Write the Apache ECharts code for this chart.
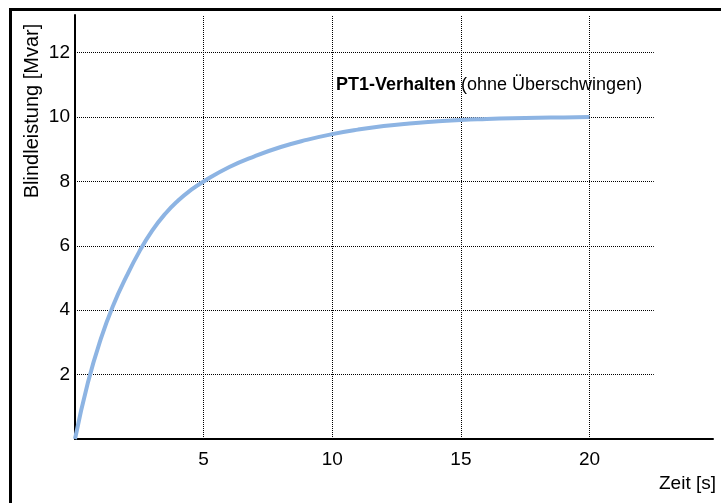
<!DOCTYPE html>
<html>
<head>
<meta charset="utf-8">
<script src="https://cdn.jsdelivr.net/npm/echarts@6/dist/echarts.min.js"></script>
<style>
html,body{margin:0;padding:0;background:#fff;}
#chart{width:721px;height:503px;}
</style>
</head>
<body>
<div id="chart"></div>
<script>
// Data
var zeit = [0, 0.5, 1, 1.5, 2, 2.5, 3, 3.5, 4, 4.5, 5, 6, 7, 8, 9, 10, 11, 12, 13, 14, 15, 16, 17, 18, 19, 20];
var blindleistung = [0, 1.75, 3.1, 4.18, 5.05, 5.82, 6.47, 6.99, 7.4, 7.73, 8.0, 8.45, 8.79, 9.07, 9.29, 9.47, 9.61, 9.72, 9.8, 9.86, 9.91, 9.94, 9.965, 9.98, 9.99, 10.0];
var gridY = [2, 4, 6, 8, 10, 12];
var gridX = [5, 10, 15, 20];
var gridXEnd = 22.5;
var gridYEnd = 13.15;
var xName = 'Zeit [s]';
var yName = 'Blindleistung [Mvar]';
var annoBold = 'PT1-Verhalten';
var annoRest = '(ohne Überschwingen)';

var FONT = '"Liberation Sans", Arial, sans-serif';
var chart = echarts.init(document.getElementById('chart'), null, {renderer: 'canvas'});

var points = zeit.map(function (t, i) { return [t, blindleistung[i]]; });
var gridLines = [];
gridY.forEach(function (v) { gridLines.push([{coord: [0, v]}, {coord: [gridXEnd, v]}]); });
gridX.forEach(function (v) { gridLines.push([{coord: [v, 0]}, {coord: [v, gridYEnd]}]); });

chart.setOption({
  animation: false,
  backgroundColor: '#ffffff',
  grid: {left: 75, right: 8, top: 15, bottom: 64, containLabel: false},
  xAxis: {
    type: 'value', min: 0, max: 24.8, interval: 5,
    axisLine: {show: true, lineStyle: {color: '#000', width: 2}},
    axisTick: {show: false},
    splitLine: {show: false},
    axisLabel: {
      color: '#000', fontFamily: FONT, fontSize: 19, margin: 11,
      showMaxLabel: false,
      formatter: function (v) { return v === 0 ? '' : String(v); }
    }
  },
  yAxis: {
    type: 'value', min: 0, max: 13.17, interval: 2,
    axisLine: {show: true, lineStyle: {color: '#000', width: 2}},
    axisTick: {show: false},
    splitLine: {show: false},
    axisLabel: {
      color: '#000', fontFamily: FONT, fontSize: 19, margin: 5,
      showMaxLabel: false,
      formatter: function (v) { return v === 0 ? '' : String(v); }
    }
  },
  series: [{
    type: 'line',
    data: points,
    smooth: 0.5,
    showSymbol: false,
    symbol: 'none',
    lineStyle: {color: '#8DB4E3', width: 4},
    z: 3,
    markLine: {
      silent: true,
      symbol: ['none', 'none'],
      label: {show: false},
      lineStyle: {color: '#000', width: 1, type: [1, 1]},
      emphasis: {disabled: true},
      data: gridLines,
      z: 1
    }
  }],
  graphic: [
    {type: 'rect', shape: {x: 9, y: 8, width: 712, height: 3}, style: {fill: '#000'}, silent: true},
    {type: 'rect', shape: {x: 9, y: 8, width: 3, height: 495}, style: {fill: '#000'}, silent: true},
    {type: 'text', x: 32, y: 111, rotation: Math.PI / 2,
      style: {text: yName, font: '20px ' + FONT, fill: '#000', align: 'center', verticalAlign: 'middle'}},
    {type: 'text', x: 716, y: 484,
      style: {text: xName, font: '19px ' + FONT, fill: '#000', align: 'right', verticalAlign: 'middle'}},
    {type: 'text', x: 336, y: 85,
      style: {
        text: '{b|' + annoBold + '} {r|' + annoRest + '}',
        align: 'left', verticalAlign: 'middle',
        rich: {
          b: {font: 'bold 18px ' + FONT, fill: '#000'},
          r: {font: '18px ' + FONT, fill: '#000'}
        },
        font: '18px ' + FONT, fill: '#000'
      }}
  ]
});
</script>
</body>
</html>
